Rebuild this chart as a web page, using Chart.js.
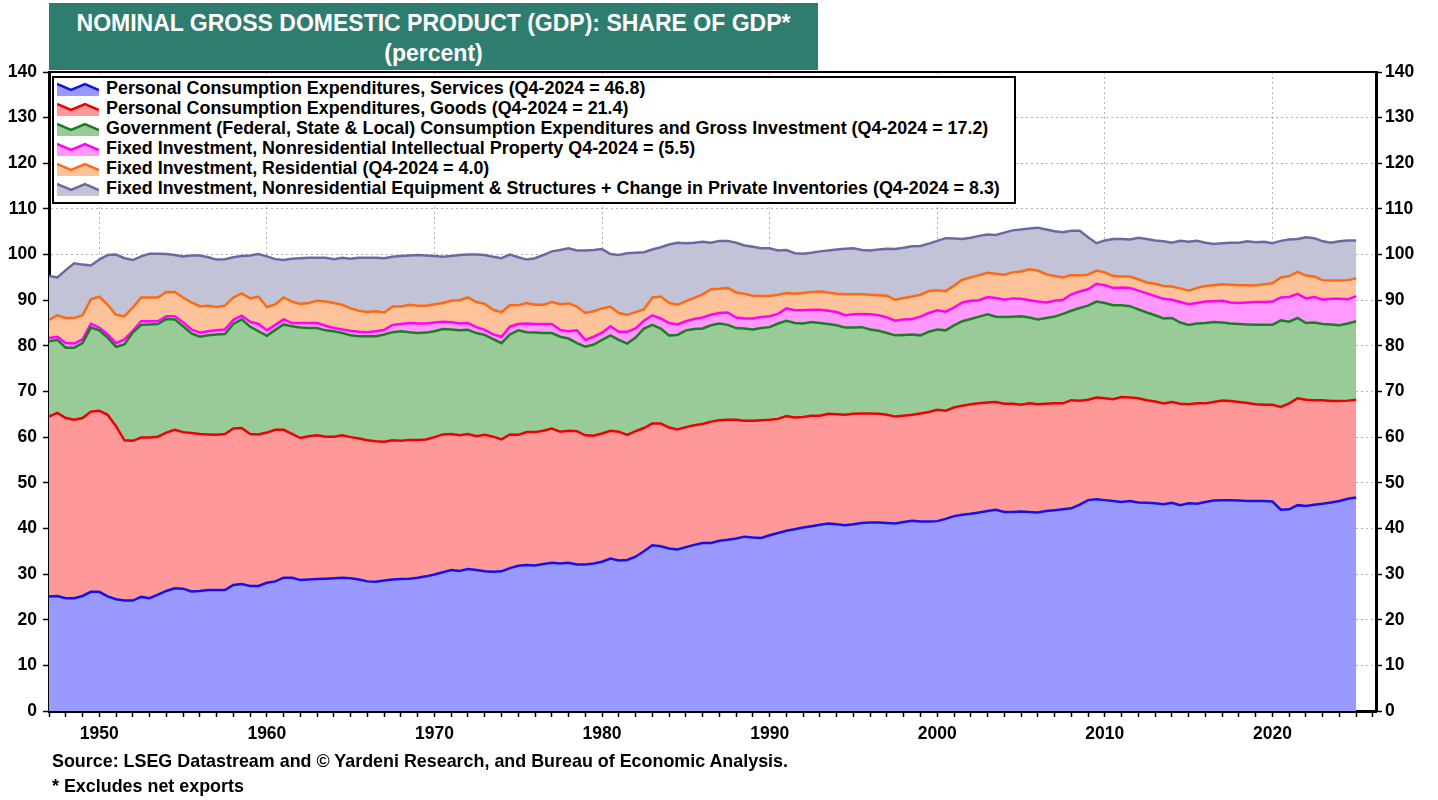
<!DOCTYPE html>
<html lang="en">
<head>
<meta charset="utf-8">
<title>Nominal GDP: Share of GDP</title>
<script src="https://cdn.jsdelivr.net/npm/chart.js@4.4.0/dist/chart.umd.min.js"></script>
<style>
    body { margin: 0; background: #fff; overflow: hidden; font-family: "Liberation Sans", Arial, sans-serif; }
    #quadro { position: relative; width: 1438px; height: 800px; }
    #grafico { position: absolute; left: 0; top: 0; }
    #titulo { position: absolute; left: 49px; top: 3px; width: 769px; height: 67px; background: #2f7d6f; color: #fff;
        font-weight: bold; font-size: 23px; line-height: 30px; text-align: center; padding-top: 5px; box-sizing: border-box; }
    #legenda { position: absolute; left: 52px; top: 76px; width: 964px; height: 128px; border: 2px solid #000;
        background: #fff; box-sizing: border-box; }
    .item { position: absolute; left: 0; height: 20px; line-height: 20px; font-weight: bold; font-size: 17.9px; white-space: nowrap; }
    .item svg { position: absolute; left: 3px; top: 3px; }
    .item span { position: absolute; left: 52px; top: 0; }
    .nota { position: absolute; left: 52px; font-weight: bold; font-size: 17.9px; line-height: 20px; white-space: nowrap; }
</style>
</head>
<body>
<div id="quadro">
    <canvas id="grafico" width="1438" height="800"></canvas>
    <div id="titulo">NOMINAL GROSS DOMESTIC PRODUCT (GDP): SHARE OF GDP*<br>(percent)</div>
    <div id="legenda"></div>
    <div class="nota" style="top: 751px;">Source: LSEG Datastream and © Yardeni Research, and Bureau of Economic Analysis.</div>
    <div class="nota" style="top: 776px;">* Excludes net exports</div>
</div>
<script>
// Posições no eixo x: semestres de 1947 até o 4º tri de 2024
const anos = Array.from({ length: 157 }, (_, i) => 1947 + i / 2);

// Topos acumulados de cada faixa (percentual do PIB)
const servicos = [
    25.1, 25.2, 24.7, 24.7, 25.2, 26.1, 26.1, 25.1, 24.5, 24.2,
    24.2, 25.0, 24.7, 25.5, 26.3, 26.9, 26.8, 26.2, 26.3, 26.5,
    26.5, 26.5, 27.6, 27.8, 27.4, 27.4, 28.1, 28.4, 29.2, 29.2,
    28.7, 28.8, 28.9, 29.0, 29.1, 29.2, 29.1, 28.8, 28.4, 28.3,
    28.6, 28.8, 28.9, 29.0, 29.2, 29.5, 29.9, 30.4, 30.9, 30.7,
    31.1, 30.9, 30.6, 30.5, 30.6, 31.3, 31.8, 32.0, 31.9, 32.2,
    32.5, 32.3, 32.5, 32.1, 32.1, 32.3, 32.7, 33.4, 33.0, 33.1,
    33.8, 35.0, 36.3, 36.1, 35.6, 35.4, 35.9, 36.4, 36.8, 36.8,
    37.3, 37.5, 37.8, 38.2, 38.0, 37.9, 38.5, 39.0, 39.5, 39.8,
    40.2, 40.5, 40.8, 41.1, 40.9, 40.7, 40.9, 41.2, 41.3, 41.3,
    41.2, 41.1, 41.4, 41.7, 41.5, 41.5, 41.6, 42.1, 42.7, 43.0,
    43.2, 43.5, 43.8, 44.1, 43.6, 43.6, 43.7, 43.6, 43.5, 43.8,
    44.0, 44.2, 44.4, 45.2, 46.2, 46.4, 46.2, 46.0, 45.8, 46.0,
    45.7, 45.6, 45.5, 45.3, 45.6, 45.1, 45.5, 45.4, 45.8, 46.1,
    46.2, 46.2, 46.1, 46.0, 46.0, 46.0, 45.9, 44.1, 44.2, 45.1,
    44.9, 45.2, 45.4, 45.7, 46.0, 46.5, 46.8
];
const bens = [
    64.5, 65.3, 64.2, 63.8, 64.2, 65.6, 65.8, 64.9, 62.4, 59.3,
    59.2, 59.9, 59.9, 60.1, 61.0, 61.6, 61.1, 60.9, 60.7, 60.6,
    60.5, 60.7, 61.9, 62.0, 60.7, 60.6, 61.0, 61.6, 61.6, 60.7,
    59.8, 60.2, 60.4, 60.1, 60.1, 60.4, 60.0, 59.7, 59.3, 59.1,
    59.0, 59.3, 59.2, 59.4, 59.4, 59.5, 60.0, 60.6, 60.7, 60.4,
    60.7, 60.2, 60.5, 60.1, 59.5, 60.6, 60.5, 61.1, 61.1, 61.4,
    61.9, 61.2, 61.4, 61.3, 60.4, 60.3, 60.8, 61.4, 61.2, 60.5,
    61.3, 62.0, 63.0, 63.0, 62.1, 61.7, 62.2, 62.6, 62.9, 63.4,
    63.7, 63.8, 63.8, 63.6, 63.6, 63.7, 63.8, 64.0, 64.6, 64.3,
    64.4, 64.7, 64.7, 65.1, 65.0, 64.9, 65.1, 65.2, 65.2, 65.1,
    64.9, 64.5, 64.7, 64.9, 65.2, 65.5, 66.0, 65.8, 66.5, 66.9,
    67.2, 67.4, 67.6, 67.7, 67.3, 67.3, 67.1, 67.4, 67.2, 67.3,
    67.4, 67.4, 68.1, 68.0, 68.2, 68.7, 68.5, 68.3, 68.8, 68.7,
    68.5, 68.1, 67.8, 67.4, 67.7, 67.3, 67.2, 67.4, 67.4, 67.7,
    68.0, 67.9, 67.7, 67.5, 67.2, 67.1, 67.1, 66.6, 67.4, 68.5,
    68.2, 68.1, 68.1, 67.9, 67.9, 68.0, 68.2
];
const governo = [
    81.0, 81.3, 79.6, 79.6, 80.6, 84.0, 83.4, 81.8, 79.8, 80.3,
    82.9, 84.6, 84.7, 84.8, 85.9, 85.8, 84.3, 82.7, 82.0, 82.3,
    82.5, 82.6, 84.8, 85.8, 84.2, 83.2, 82.2, 83.5, 84.7, 84.3,
    84.0, 83.9, 83.9, 83.4, 83.2, 82.8, 82.3, 82.1, 82.1, 82.1,
    82.5, 83.0, 83.2, 83.0, 82.8, 82.9, 83.2, 83.7, 83.6, 83.4,
    83.5, 82.8, 82.4, 81.5, 80.6, 82.5, 83.4, 83.0, 82.9, 82.8,
    82.8, 82.0, 81.6, 80.6, 79.8, 80.3, 81.3, 82.3, 81.3, 80.5,
    81.8, 83.8, 84.6, 83.8, 82.3, 82.4, 83.4, 83.7, 83.8, 84.5,
    84.9, 84.6, 83.9, 83.8, 83.6, 83.9, 84.1, 84.9, 85.5, 85.0,
    84.9, 85.2, 85.0, 84.8, 84.5, 84.0, 84.0, 84.1, 83.6, 83.3,
    82.8, 82.3, 82.4, 82.5, 82.3, 83.1, 83.6, 83.4, 84.5, 85.4,
    85.9, 86.4, 86.9, 86.4, 86.3, 86.4, 86.5, 86.2, 85.8, 86.1,
    86.4, 87.0, 87.7, 88.3, 88.8, 89.7, 89.4, 88.9, 88.9, 88.7,
    88.0, 87.3, 86.7, 86.0, 86.1, 85.1, 84.6, 84.9, 85.0, 85.2,
    85.1, 84.9, 84.8, 84.7, 84.6, 84.6, 84.6, 85.6, 85.3, 86.1,
    85.0, 85.1, 84.8, 84.7, 84.5, 84.9, 85.4
];
const propIntelectual = [
    81.7, 82.0, 80.6, 80.5, 81.4, 84.8, 84.0, 82.5, 80.6, 81.4,
    83.3, 85.4, 85.4, 85.4, 86.5, 86.5, 85.2, 83.6, 82.9, 83.2,
    83.4, 83.6, 85.7, 86.6, 85.3, 84.8, 83.4, 84.6, 85.8, 85.0,
    85.0, 85.0, 85.0, 84.4, 83.9, 83.6, 83.3, 83.1, 83.0, 83.2,
    83.5, 84.6, 84.8, 85.0, 84.9, 84.9, 85.1, 85.3, 85.2, 84.9,
    85.0, 84.1, 83.5, 82.5, 82.0, 84.2, 84.8, 84.9, 84.8, 84.8,
    84.8, 83.5, 83.2, 83.4, 81.3, 82.0, 82.9, 84.3, 83.1, 83.1,
    83.8, 85.5, 86.7, 86.0, 85.0, 84.7, 85.4, 85.9, 86.2, 86.8,
    87.2, 87.3, 86.2, 86.0, 86.0, 86.3, 86.5, 87.0, 88.2, 87.8,
    87.8, 87.9, 87.9, 87.7, 87.4, 86.7, 86.9, 87.0, 86.9, 86.7,
    86.2, 85.5, 85.8, 85.9, 86.4, 87.2, 87.8, 87.5, 88.4, 89.5,
    89.9, 90.0, 90.7, 90.5, 90.1, 90.4, 90.3, 90.0, 89.7, 89.5,
    89.9, 90.1, 91.3, 91.9, 92.4, 93.6, 93.3, 92.7, 92.8, 92.7,
    92.1, 91.5, 90.9, 90.3, 90.1, 89.6, 89.1, 89.4, 89.7, 89.8,
    89.9, 89.5, 89.4, 89.5, 89.6, 89.6, 89.7, 90.6, 90.7, 91.4,
    90.4, 90.7, 90.1, 90.3, 90.3, 90.2, 90.9
];
const residencial = [
    85.7, 86.7, 86.1, 86.1, 86.7, 90.2, 90.8, 89.0, 86.8, 86.5,
    88.4, 90.6, 90.6, 90.6, 91.8, 91.8, 90.6, 89.5, 88.7, 88.8,
    88.5, 88.8, 90.6, 91.5, 90.4, 90.8, 88.5, 89.1, 90.6, 89.7,
    89.2, 89.4, 89.9, 89.7, 89.4, 89.0, 88.2, 87.7, 87.4, 87.6,
    87.3, 88.6, 88.6, 89.0, 88.8, 88.8, 89.1, 89.4, 89.9, 90.0,
    90.6, 89.6, 89.2, 87.9, 87.4, 88.9, 88.9, 89.4, 89.0, 89.0,
    89.6, 89.1, 89.3, 88.6, 87.2, 87.6, 88.2, 88.6, 87.2, 86.8,
    87.4, 88.0, 90.6, 90.8, 89.4, 89.0, 89.8, 90.5, 91.3, 92.4,
    92.5, 92.7, 91.7, 91.4, 91.0, 90.9, 90.9, 91.2, 91.6, 91.4,
    91.6, 91.8, 91.9, 91.7, 91.4, 91.3, 91.3, 91.3, 91.2, 91.1,
    91.0, 90.1, 90.5, 90.8, 91.2, 92.0, 92.2, 92.0, 93.2, 94.5,
    95.0, 95.5, 96.0, 95.8, 95.6, 96.1, 96.3, 96.8, 96.5, 95.7,
    95.3, 95.0, 95.5, 95.4, 95.6, 96.5, 96.1, 95.3, 95.2, 95.2,
    94.6, 93.9, 93.6, 93.1, 93.0, 92.6, 92.1, 92.7, 93.1, 93.3,
    93.5, 93.4, 93.3, 93.3, 93.2, 93.5, 93.7, 95.0, 95.3, 96.2,
    95.4, 95.2, 94.4, 94.3, 94.3, 94.4, 94.8
];
const equipEstoques = [
    95.3, 95.0, 96.6, 98.1, 97.8, 97.6, 98.9, 99.9, 100.0, 99.2,
    98.8, 99.6, 100.2, 100.2, 100.1, 99.9, 99.6, 99.8, 99.8, 99.4,
    98.9, 99.0, 99.4, 99.7, 99.8, 100.1, 99.6, 99.0, 98.8, 99.1,
    99.2, 99.3, 99.3, 99.3, 99.0, 99.3, 99.1, 99.3, 99.3, 99.3,
    99.2, 99.5, 99.7, 99.8, 99.9, 99.8, 99.7, 99.5, 99.7, 99.9,
    100.0, 100.0, 99.9, 99.5, 99.2, 100.0, 99.4, 98.9, 99.2, 99.9,
    100.7, 101.0, 101.4, 100.9, 100.9, 101.0, 101.2, 100.1, 99.9, 100.3,
    100.4, 100.5, 101.1, 101.6, 102.2, 102.6, 102.5, 102.6, 102.8, 102.6,
    103.0, 103.0, 102.6, 102.0, 101.7, 101.4, 101.4, 100.9, 101.0, 100.3,
    100.2, 100.4, 100.7, 100.9, 101.1, 101.3, 101.4, 101.0, 100.9, 101.1,
    101.3, 101.2, 101.5, 101.8, 101.9, 102.4, 103.0, 103.6, 103.5, 103.4,
    103.7, 104.1, 104.4, 104.3, 104.8, 105.3, 105.5, 105.7, 105.9, 105.5,
    105.1, 104.9, 105.2, 105.2, 103.8, 102.5, 103.1, 103.4, 103.4, 103.3,
    103.7, 103.4, 103.1, 102.9, 102.6, 103.0, 102.8, 103.0, 102.6, 102.3,
    102.5, 102.6, 102.6, 102.9, 102.7, 102.8, 102.5, 103.0, 103.3, 103.4,
    103.8, 103.6, 102.9, 102.6, 102.9, 103.1, 103.1
];

const rotulos = [
    'Personal Consumption Expenditures, Services (Q4-2024 = 46.8)',
    'Personal Consumption Expenditures, Goods (Q4-2024 = 21.4)',
    'Government (Federal, State & Local) Consumption Expenditures and Gross Investment (Q4-2024 = 17.2)',
    'Fixed Investment, Nonresidential Intellectual Property Q4-2024 = (5.5)',
    'Fixed Investment, Residential (Q4-2024 = 4.0)',
    'Fixed Investment, Nonresidential Equipment & Structures + Change in Private Inventories (Q4-2024 = 8.3)'
];
const series = [servicos, bens, governo, propIntelectual, residencial, equipEstoques];
const corLinha = ['#1010f0', '#ee0000', '#17801c', '#ff00ff', '#ff6a10', '#6a6aa2'];
const corArea = ['#9999ff', '#ff9999', '#99cb99', '#ff99ff', '#ffc39c', '#c3c3d7'];

const fonte = '"Liberation Sans", Arial, sans-serif';
const corGrade = 'rgba(100,100,120,0.5)';

Chart.defaults.font.family = fonte;
Chart.defaults.font.size = 17.5;
Chart.defaults.font.weight = 'bold';
Chart.defaults.color = '#000';

// Legenda em HTML, com o ícone de área
document.getElementById('legenda').innerHTML = rotulos.map((texto, i) => `<div class="item" style="top:${i * 20}px">
    <svg width="42" height="15" viewBox="0 0 42 15">
        <path d="M0,3 L14,9 L28,3 L42,9 L42,15 L0,15 Z" fill="${corArea[i]}"/>
        <polyline points="0,3 14,9 28,3 42,9" fill="none" stroke="${corLinha[i]}" stroke-width="2.5"/>
    </svg><span>${texto}</span></div>`).join('');

// Linha de cima da moldura
const moldura = {
    id: 'moldura',
    afterDraw(chart) {
        const { ctx, chartArea: a } = chart;
        ctx.save();
        ctx.strokeStyle = '#000';
        ctx.lineWidth = 2;
        ctx.beginPath();
        ctx.moveTo(a.left, a.top);
        ctx.lineTo(a.right, a.top);
        ctx.stroke();
        ctx.restore();
    }
};

const eixoY = (lado, largura) => ({
    position: lado,
    min: 0,
    max: 140,
    z: 1,
    afterFit: (s) => { s.width = largura; },
    ticks: { stepSize: 10, autoSkip: false, padding: lado === 'left' ? 6 : 3, callback: (v) => String(v) },
    grid: { drawOnChartArea: lado === 'left', color: corGrade, lineWidth: 1, tickColor: '#000', tickLength: 6, tickWidth: 1.5 },
    border: { display: true, color: '#000', width: 3, dash: [2, 3] }
});

new Chart('grafico', {
    type: 'line',
    data: {
        datasets: series.map((valores, i) => ({
            label: rotulos[i],
            data: anos.map((ano, k) => ({ x: ano, y: valores[k] })),
            borderColor: corLinha[i],
            backgroundColor: corArea[i],
            borderWidth: 2.5,
            fill: i === 0 ? 'origin' : '-1',
            pointRadius: 0,
            tension: 0
        }))
    },
    options: {
        responsive: false,
        animation: false,
        events: [],
        layout: { padding: { top: 72, left: 0, right: 0, bottom: 0 } },
        plugins: { legend: { display: false }, tooltip: { enabled: false } },
        scales: {
            x: {
                type: 'linear',
                min: 1947,
                max: 2026.18,
                z: 1,
                afterFit: (s) => { s.height = 89; },
                ticks: {
                    stepSize: 1,
                    autoSkip: false,
                    includeBounds: false,
                    maxRotation: 0,
                    padding: 7,
                    callback: (v) => (v % 10 === 0 ? String(v) : '')
                },
                grid: {
                    color: (c) => (c.tick && c.tick.value % 10 === 0 ? corGrade : 'rgba(0,0,0,0)'),
                    lineWidth: 1,
                    tickColor: '#000',
                    tickLength: 6,
                    tickWidth: 1.5
                },
                border: { display: true, color: '#000', width: 3, dash: [2, 3] }
            },
            y: eixoY('left', 49),
            y2: eixoY('right', 62)
        }
    },
    plugins: [moldura]
});
</script>
</body>
</html>
